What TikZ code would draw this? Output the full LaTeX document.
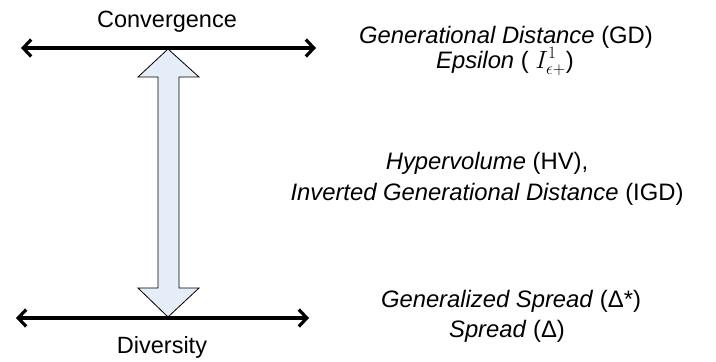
\documentclass[tikz,border=0pt]{standalone}
\usepackage{fontspec}
\setmainfont{Liberation Sans}
\usetikzlibrary{arrows.meta, positioning}
\definecolor{shaftblue}{RGB}{229,237,248}
\tikzset{
    axis/.style={draw=black, line width=3.2pt, line cap=round, line join=round, {Straight Barb[length=8pt, width=17pt]}-{Straight Barb[length=8pt, width=17pt]}},
    blockarrow/.style={draw=black, fill=shaftblue, line width=0.8pt, line join=miter},
    axislabel/.style={inner sep=0pt, anchor=base, font=\fontsize{23.5}{26}\selectfont},
    metric/.style={inner sep=0pt, anchor=base, font=\fontsize{23.8}{26}\selectfont}
}
\begin{document}
\begin{tikzpicture}[x=1pt, y=-1pt]

        % -----------------------------------------------------------------
        % CORNICE
        % -----------------------------------------------------------------
        \useasboundingbox (0,0) rectangle (716,362);

        % -----------------------------------------------------------------
        % FRECCIA CENTRALE
        % -----------------------------------------------------------------
        \coordinate (convM) at (168,49);
        \coordinate (divM) at (168,317);
        \draw[blockarrow] (convM) -- (199,77) -- (179,77) -- (179,288) -- (199,288)
            -- (divM) -- (138,288) -- (158,288) -- (158,77) -- (138,77) -- cycle;

        % -----------------------------------------------------------------
        % ASSI
        % -----------------------------------------------------------------
        \coordinate (convL) at (21,48);
        \coordinate (convR) at (316,48);
        \coordinate (divL) at (16,318);
        \coordinate (divR) at (309,318);
        \draw[axis] (convL) -- (convR);
        \draw[axis] (divL) -- (divR);

        \node[axislabel] (conv) at (167,27) {Convergence};
        \node[axislabel] (div) at (162,353) {Diversity};

        % -----------------------------------------------------------------
        % METRICHE
        % -----------------------------------------------------------------
        \node[metric] (gd) at (506,43) {\textit{Generational Distance} (GD)};
        \node[metric] (eps) at (505,68) {\textit{Epsilon} ( $I^{1}_{\epsilon+}$)};

        \node[metric] (hv) at (487,169) {\textit{Hypervolume} (HV),};
        \node[metric] (igd) at (487,200) {\textit{Inverted Generational Distance} (IGD)};

        \node[metric] (gs) at (511,307) {\textit{Generalized Spread} (Δ*)};
        \node[metric] (sp) at (507,337) {\textit{Spread} (Δ)};

    \end{tikzpicture}
\end{document}
